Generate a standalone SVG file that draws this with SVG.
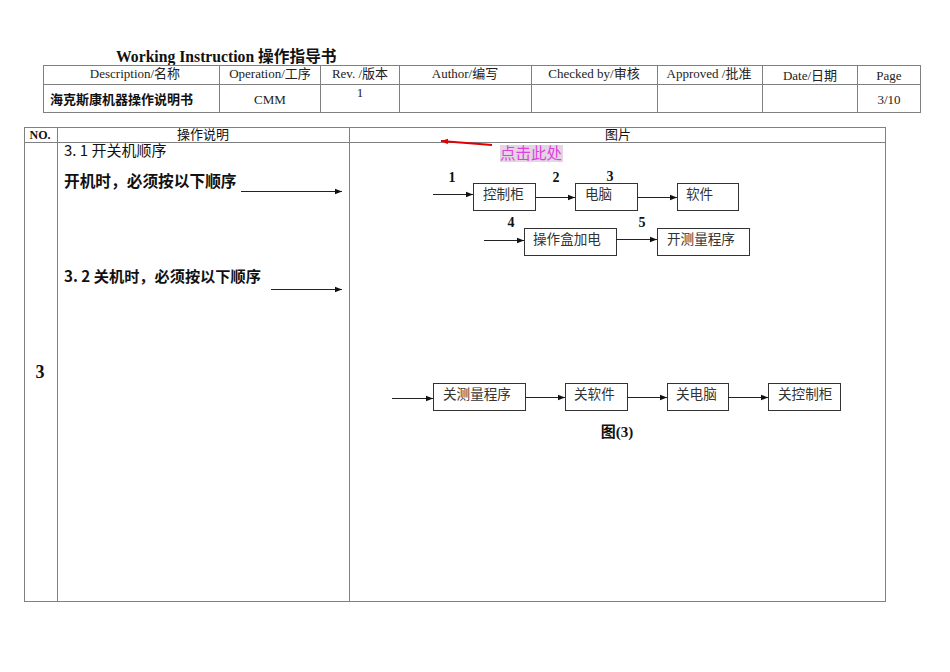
<svg xmlns="http://www.w3.org/2000/svg" width="950" height="672" viewBox="0 0 950 672">
<style>
.grid{fill:none;stroke:#808080;stroke-width:1}
.hdr{font-family:"Liberation Serif","Noto Sans CJK SC",serif;font-size:13px;fill:#222;text-anchor:middle}
.b{font-weight:bold}
.cn{font-family:"Noto Sans CJK SC","Liberation Sans",sans-serif;fill:#111}
.box rect{fill:#fff;stroke:#333;stroke-width:1}
.box text{font-family:"Noto Sans CJK SC",sans-serif;font-size:13.6px;fill:#333}
.num{font-family:"Liberation Serif",serif;font-weight:bold;font-size:14px;fill:#111;text-anchor:middle}
.conn line{stroke:#222;stroke-width:1;marker-end:url(#ah)}
</style>
<defs>
<marker id="ah" viewBox="0 0 10 10" refX="10" refY="5" markerWidth="7" markerHeight="7" markerUnits="userSpaceOnUse" orient="auto"><path d="M0,1 L10,5 L0,9 z" fill="#111"/></marker>
<marker id="rh" viewBox="0 0 10 10" refX="10" refY="5" markerWidth="7" markerHeight="7" markerUnits="userSpaceOnUse" orient="auto"><path d="M0,1 L10,5 L0,9 z" fill="#e00000"/></marker>
</defs>
<rect width="950" height="672" fill="#fff"/>
<text x="116" y="62" font-family="Liberation Serif,Noto Sans CJK SC,serif" font-weight="bold" font-size="15.7" fill="#111">Working Instruction 操作指导书</text>
<g id="header-table">
<rect class="grid" x="43.5" y="65.5" width="877" height="47"/>
<line class="grid" x1="43" y1="84.5" x2="920" y2="84.5"/>
<line class="grid" x1="219.5" y1="65" x2="219.5" y2="112"/>
<line class="grid" x1="320.5" y1="65" x2="320.5" y2="112"/>
<line class="grid" x1="399.5" y1="65" x2="399.5" y2="112"/>
<line class="grid" x1="531.5" y1="65" x2="531.5" y2="112"/>
<line class="grid" x1="657.5" y1="65" x2="657.5" y2="112"/>
<line class="grid" x1="762.5" y1="65" x2="762.5" y2="112"/>
<line class="grid" x1="857.5" y1="65" x2="857.5" y2="112"/>
<text class="hdr" x="135" y="78">Description/名称</text>
<text class="hdr" x="270" y="78">Operation/工序</text>
<text class="hdr" x="360" y="78">Rev. /版本</text>
<text class="hdr" x="465" y="78">Author/编写</text>
<text class="hdr" x="594" y="78">Checked by/审核</text>
<text class="hdr" x="709" y="78">Approved /批准</text>
<text class="hdr" x="810" y="80">Date/日期</text>
<text class="hdr" x="889" y="80">Page</text>
<text class="cn b" x="50" y="104" font-size="13">海克斯康机器操作说明书</text>
<text class="hdr" x="270" y="104">CMM</text>
<text class="hdr" x="360" y="97">1</text>
<text class="hdr" x="889" y="104">3/10</text>
</g>
<g id="main-table">
<rect class="grid" x="24.5" y="127.5" width="861" height="474"/>
<line class="grid" x1="24" y1="142.5" x2="886" y2="142.5"/>
<line class="grid" x1="57.5" y1="127" x2="57.5" y2="601"/>
<line class="grid" x1="349.5" y1="127" x2="349.5" y2="601"/>
<text x="40" y="139" font-family="Liberation Serif,serif" font-weight="bold" font-size="12" text-anchor="middle" fill="#111">NO.</text>
<text class="cn" x="203" y="139" font-size="13" text-anchor="middle">操作说明</text>
<text class="cn" x="618" y="139" font-size="13" text-anchor="middle">图片</text>
<text x="40" y="378" font-family="Liberation Serif,serif" font-weight="bold" font-size="18" text-anchor="middle" fill="#111">3</text>
<text class="cn" x="64" y="156" font-size="15" font-weight="400">3. 1 开关机顺序</text>
<text class="cn b" x="64" y="187" font-size="15.7">开机时，必须按以下顺序</text>
<text class="cn b" x="64" y="282" font-size="15.2">3. 2 关机时，必须按以下顺序</text>
</g>
<g id="click-here">
<rect x="500" y="145" width="63" height="17" fill="#e4d4e4"/>
<text x="500" y="159" font-family="Noto Sans CJK SC,sans-serif" font-size="15.5" fill="#e040e0">点击此处</text>
<line x1="492" y1="145" x2="441" y2="141" stroke="#e00000" stroke-width="2" marker-end="url(#rh)"/>
</g>
<g id="n-kongzhigui" class="box"><rect x="473.5" y="183.5" width="62" height="27"/><text x="483" y="199">控制柜</text></g>
<g id="n-diannao" class="box"><rect x="575.5" y="183.5" width="62" height="27"/><text x="585" y="199">电脑</text></g>
<g id="n-ruanjian" class="box"><rect x="677.5" y="183.5" width="61" height="27"/><text x="686" y="199">软件</text></g>
<g id="n-caozuohe" class="box"><rect x="524.5" y="228.5" width="92" height="27"/><text x="533" y="244">操作盒加电</text></g>
<g id="n-kaiceliang" class="box"><rect x="657.5" y="228.5" width="92" height="27"/><text x="667" y="244">开测量程序</text></g>
<g id="n-guanceliang" class="box"><rect x="433.5" y="383.5" width="92" height="27"/><text x="443" y="399">关测量程序</text></g>
<g id="n-guanruanjian" class="box"><rect x="565.5" y="383.5" width="62" height="27"/><text x="574" y="399">关软件</text></g>
<g id="n-guandiannao" class="box"><rect x="667.5" y="383.5" width="61" height="27"/><text x="676" y="399">关电脑</text></g>
<g id="n-guankongzhigui" class="box"><rect x="768.5" y="383.5" width="72" height="27"/><text x="778" y="399">关控制柜</text></g>
<g id="labels">
<text class="num" x="452" y="182">1</text>
<text class="num" x="556" y="182">2</text>
<text class="num" x="610" y="181">3</text>
<text class="num" x="511" y="227">4</text>
<text class="num" x="642" y="227">5</text>
<text x="617" y="437" font-family="Liberation Serif,Noto Sans CJK SC,serif" font-weight="bold" font-size="15" text-anchor="middle" fill="#111">图(3)</text>
</g>
<g id="connectors" class="conn">
<line x1="241" y1="191.5" x2="342" y2="191.5"/>
<line x1="271" y1="289.5" x2="342" y2="289.5"/>
<line x1="433" y1="194.5" x2="473" y2="194.5"/>
<line x1="535" y1="197.5" x2="575" y2="197.5"/>
<line x1="637" y1="197.5" x2="677" y2="197.5"/>
<line x1="484" y1="240.5" x2="524" y2="240.5"/>
<line x1="616" y1="239.5" x2="657" y2="239.5"/>
<line x1="392" y1="398.5" x2="433" y2="398.5"/>
<line x1="525" y1="397.5" x2="565" y2="397.5"/>
<line x1="627" y1="397.5" x2="667" y2="397.5"/>
<line x1="728" y1="397.5" x2="768" y2="397.5"/>
</g>
</svg>
